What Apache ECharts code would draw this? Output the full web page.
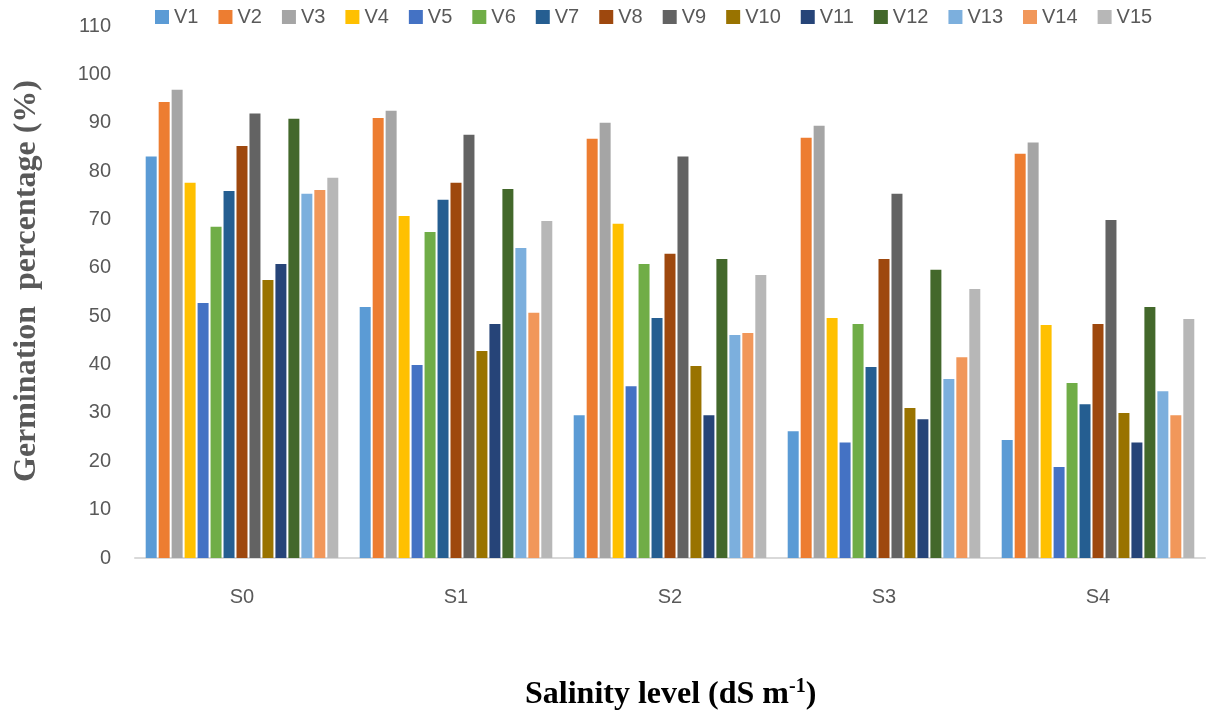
<!DOCTYPE html>
<html lang="en">

<head>
	<meta charset="UTF-8">
	<title>Germination percentage</title>
	<style>
		html, body { margin: 0; padding: 0; background: #fff; }
	</style>
</head>

<body>
	<div id="main" style="width: 1213px;height:715px;"></div>
	<script src="https://cdn.jsdelivr.net/npm/echarts@6/dist/echarts.min.js"></script>
	<script>
		// salinity levels on the x axis
		var categories = ['S0', 'S1', 'S2', 'S3', 'S4'];
		var yTicks = [0, 10, 20, 30, 40, 50, 60, 70, 80, 90, 100, 110];

		// germination % per variety
		var V1 = [83.0, 51.9, 29.5, 26.2, 24.4];
		var V2 = [94.3, 91.0, 86.7, 86.9, 83.6];
		var V3 = [96.8, 92.5, 90.0, 89.4, 85.9];
		var V4 = [77.6, 70.7, 69.1, 49.6, 48.2];
		var V5 = [52.7, 39.9, 35.5, 23.9, 18.8];
		var V6 = [68.5, 67.4, 60.8, 48.4, 36.2];
		var V7 = [75.9, 74.1, 49.6, 39.5, 31.8];
		var V8 = [85.2, 77.6, 62.9, 61.8, 48.4];
		var V9 = [91.9, 87.5, 83.0, 75.3, 69.9];
		var V10 = [57.5, 42.8, 39.7, 31.0, 30.0];
		var V11 = [60.8, 48.4, 29.5, 28.7, 23.9];
		var V12 = [90.8, 76.3, 61.8, 59.6, 51.9];
		var V13 = [75.3, 64.1, 46.1, 37.0, 34.5];
		var V14 = [76.1, 50.7, 46.5, 41.5, 29.5];
		var V15 = [78.6, 69.7, 58.5, 55.6, 49.4];

		var names = ['V1', 'V2', 'V3', 'V4', 'V5', 'V6', 'V7', 'V8', 'V9', 'V10', 'V11', 'V12', 'V13', 'V14', 'V15'];
		var values = [V1, V2, V3, V4, V5, V6, V7, V8, V9, V10, V11, V12, V13, V14, V15];
		var colors = ['#5B9BD5', '#ED7D31', '#A5A5A5', '#FFC000', '#4472C4', '#70AD47', '#255E91', '#9E480E',
			'#636363', '#997300', '#264478', '#43682B', '#7CAFDD', '#F1975A', '#B7B7B7'];

		var sans = '"Liberation Sans", Arial, sans-serif';
		var serif = '"Liberation Serif", "Times New Roman", serif';

		var series = [];
		for (var i = 0; i < names.length; i++) {
			series.push({
				name: names[i],
				type: 'bar',
				data: values[i],
				barGap: '18%',
				barCategoryGap: '10%',
				itemStyle: { color: colors[i] }
			});
		}

		var myChart = echarts.init(document.getElementById('main'));
		var option = {
			animation: false,
			color: colors,
			title: {
				left: 520,
				top: 672,
				text: '{a|Salinity level (dS m}{s|-1}{a|)}',
				textStyle: {
					rich: {
						a: { fontFamily: serif, fontWeight: 'bold', fontSize: 32, color: '#000', lineHeight: 36 },
						s: { fontFamily: serif, fontWeight: 'bold', fontSize: 20, color: '#000', verticalAlign: 'top', lineHeight: 36, padding: [0, 0, 14, 0] }
					}
				}
			},
			legend: {
				left: 150,
				top: 2,
				icon: 'rect',
				itemWidth: 14,
				itemHeight: 14,
				itemGap: 20,
				textStyle: { fontFamily: sans, fontSize: 20, color: '#595959' },
				data: names
			},
			grid: {
				left: 135,
				right: 8,
				top: 26,
				bottom: 157
			},
			xAxis: {
				type: 'category',
				data: categories,
				axisLine: { lineStyle: { color: '#d9d9d9', width: 2 } },
				axisTick: { show: false },
				axisLabel: { margin: 29, fontFamily: sans, fontSize: 20, color: '#595959' }
			},
			yAxis: {
				type: 'value',
				min: yTicks[0],
				max: yTicks[yTicks.length - 1],
				interval: 10,
				name: 'Germination  percentage (%)',
				nameLocation: 'middle',
				nameRotate: 90,
				nameGap: 92,
				nameTextStyle: { fontFamily: serif, fontWeight: 'bold', fontSize: 32, color: '#595959', padding: [0, 0, 0, 22] },
				splitLine: { show: false },
				axisLine: { show: false },
				axisTick: { show: false },
				axisLabel: { margin: 24, fontFamily: sans, fontSize: 20, color: '#595959' }
			},
			series: series
		};
		myChart.setOption(option);
	</script>
</body>

</html>
